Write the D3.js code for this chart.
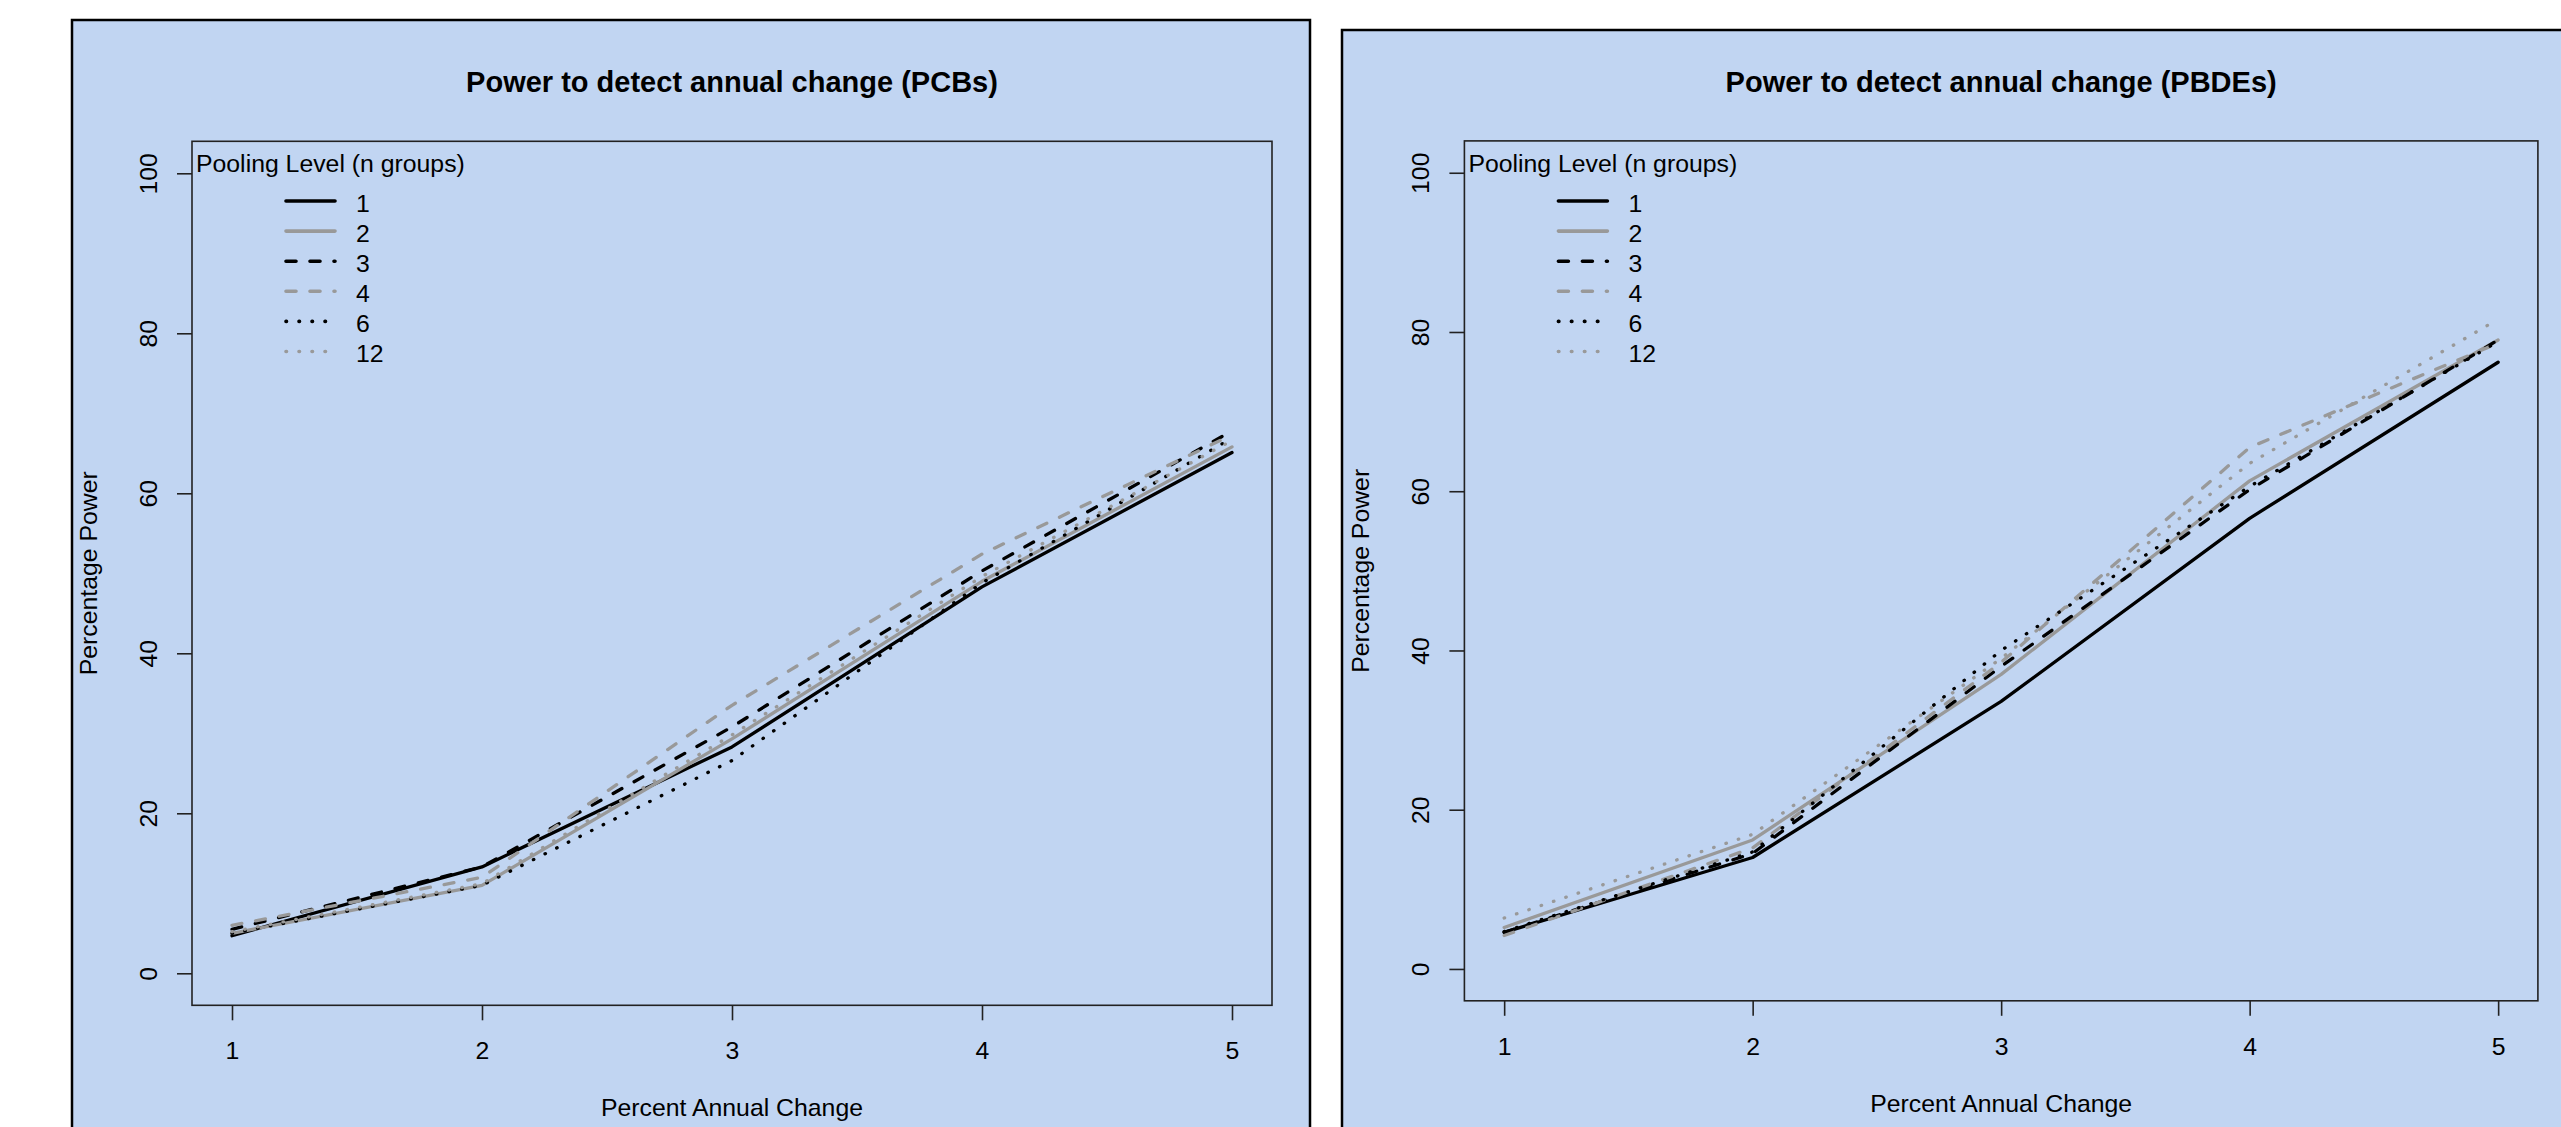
<!DOCTYPE html>
<html>
<head>
<meta charset="utf-8">
<script src="https://cdn.jsdelivr.net/npm/d3@7"></script>
<style>
  body { margin: 0; background: #fff; }
  text { font-family: "Liberation Sans", Arial, sans-serif; fill: #000; }
</style>
</head>
<body>
<div id="chart"></div>
<script>
// x values (percent annual change) and pooling levels
var percentChange = [1, 2, 3, 4, 5];
var poolingLevels = ["1", "2", "3", "4", "6", "12"];

// power (%) per pooling level, one row per level
var pcbPower = [
  [4.7, 13.3, 28.3, 48.3, 65.1],
  [5.0, 11.0, 29.3, 49.0, 65.8],
  [5.5, 13.3, 30.8, 50.3, 67.8],
  [6.0, 12.0, 33.5, 52.4, 67.3],
  [5.0, 11.0, 26.6, 48.8, 66.9],
  [5.2, 11.2, 29.8, 49.6, 66.6]
];
var pbdePower = [
  [4.6, 14.0, 33.6, 56.6, 76.2],
  [5.2, 16.2, 37.0, 61.3, 79.0],
  [4.6, 14.5, 38.0, 60.2, 79.0],
  [4.2, 15.2, 38.5, 65.5, 78.6],
  [4.7, 14.7, 40.0, 60.6, 78.8],
  [6.4, 16.9, 39.0, 63.5, 81.6]
];

var xTickValues = [1, 2, 3, 4, 5];
var yTickValues = [0, 20, 40, 60, 80, 100];

// styles
var bg = "#c1d5f2";
var lineColor = ["#000", "#999", "#000", "#999", "#000", "#999"];
var lineDash = [null, null, "10,14", "10,14", "0.5,12.5", "0.5,12.5"];
var fontSize = 24.8;

var svg = d3.select("#chart").append("svg")
    .attr("width", 2561)
    .attr("height", 1127);

function drawPanel(p) {
  var g = svg.append("g");

  // outer frame of the figure
  g.append("rect")
      .attr("x", p.frame.x).attr("y", p.frame.y)
      .attr("width", p.frame.w).attr("height", p.frame.h)
      .attr("fill", bg)
      .attr("stroke", "#000")
      .attr("stroke-width", 2.5);

  var x = d3.scaleLinear().domain([0.84, 5.16]).range([p.left, p.right]);
  var y = d3.scaleLinear().domain([-4, 104]).range([p.bottom, p.top]);

  // axes
  var xAxis = g.append("g")
      .attr("transform", "translate(0," + p.bottom + ")")
      .call(d3.axisBottom(x).tickValues(xTickValues).tickSize(15).tickSizeOuter(0).tickFormat(d3.format("d")));
  xAxis.selectAll("text")
      .attr("y", 54).attr("dy", 0)
      .style("font-size", fontSize + "px");

  var yAxis = g.append("g")
      .attr("transform", "translate(" + p.left + ",0)")
      .call(d3.axisLeft(y).tickValues(yTickValues).tickSize(15).tickSizeOuter(0).tickFormat(d3.format("d")));
  yAxis.selectAll("text")
      .attr("x", null).attr("dy", null)
      .attr("text-anchor", "middle")
      .attr("transform", "translate(-35,0) rotate(-90)")
      .style("font-size", fontSize + "px");

  [xAxis, yAxis].forEach(function(a) {
    a.select(".domain").remove();
    a.selectAll("line").attr("stroke", "#222").attr("stroke-width", 1.6);
  });

  // plot box
  g.append("rect")
      .attr("x", p.left).attr("y", p.top)
      .attr("width", p.right - p.left).attr("height", p.bottom - p.top)
      .attr("fill", "none")
      .attr("stroke", "#222")
      .attr("stroke-width", 1.6);

  // series
  var line = d3.line()
      .x(function(d, i) { return x(percentChange[i]); })
      .y(function(d) { return y(d); });

  g.selectAll("path.series")
      .data(p.values)
      .enter().append("path")
      .attr("class", "series")
      .attr("d", line)
      .attr("fill", "none")
      .attr("stroke", function(d, i) { return lineColor[i]; })
      .attr("stroke-width", 3.3)
      .attr("stroke-linecap", "round")
      .attr("stroke-linejoin", "round")
      .attr("stroke-dasharray", function(d, i) { return lineDash[i]; });

  // titles
  g.append("text")
      .attr("x", (p.left + p.right) / 2).attr("y", 92)
      .attr("text-anchor", "middle")
      .style("font-size", "29px")
      .style("font-weight", "bold")
      .text(p.title);

  g.append("text")
      .attr("x", (p.left + p.right) / 2).attr("y", p.bottom + 111)
      .attr("text-anchor", "middle")
      .style("font-size", fontSize + "px")
      .text("Percent Annual Change");

  g.append("text")
      .attr("transform", "translate(" + (p.left - 95) + "," + ((p.top + p.bottom) / 2) + ") rotate(-90)")
      .attr("text-anchor", "middle")
      .style("font-size", fontSize + "px")
      .text("Percentage Power");

  // legend
  var leg = g.append("g").attr("transform", "translate(" + p.left + ",0)");
  leg.append("text")
      .attr("x", 4).attr("y", 171.5)
      .style("font-size", fontSize + "px")
      .text("Pooling Level (n groups)");

  var rows = leg.selectAll("g.row")
      .data(poolingLevels)
      .enter().append("g")
      .attr("class", "row")
      .attr("transform", function(d, i) { return "translate(0," + (201 + i * 30.1) + ")"; });
  rows.append("line")
      .attr("x1", 94).attr("x2", 143)
      .attr("stroke", function(d, i) { return lineColor[i]; })
      .attr("stroke-width", 3.6)
      .attr("stroke-linecap", "round")
      .attr("stroke-dasharray", function(d, i) { return lineDash[i]; });
  rows.append("text")
      .attr("x", 164).attr("y", 10.5)
      .style("font-size", fontSize + "px")
      .text(function(d) { return d; });
}

drawPanel({
  title: "Power to detect annual change (PCBs)",
  values: pcbPower,
  frame: {x: 72, y: 20, w: 1238, h: 1200},
  left: 192, right: 1272, top: 141.3, bottom: 1005.3
});

drawPanel({
  title: "Power to detect annual change (PBDEs)",
  values: pbdePower,
  frame: {x: 1342, y: 30, w: 1300, h: 1200},
  left: 1464.4, right: 2537.9, top: 140.9, bottom: 1000.8
});
</script>
</body>
</html>
